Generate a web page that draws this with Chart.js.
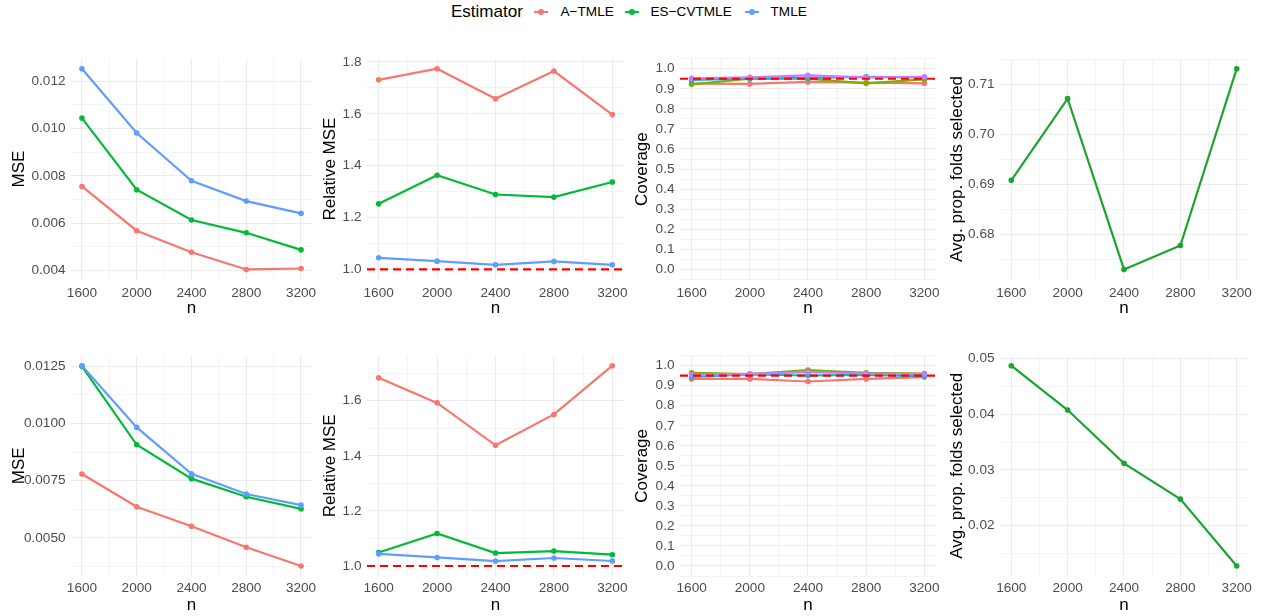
<!DOCTYPE html>
<html>
<head>
<meta charset="utf-8">
<script src="https://cdn.jsdelivr.net/npm/chart.js@4.4.1/dist/chart.umd.min.js"></script>
<style>
  body { margin: 0; background: #fff; width: 1265px; height: 616px; overflow: hidden; position: relative;
         font-family: 'Liberation Sans', Arial, sans-serif; }
  .panel { position: absolute; }
  .lg { position: absolute; top: 0; height: 24px; line-height: 24px; white-space: nowrap; color: #000; }
  .key { position: absolute; top: 11px; width: 14px; height: 2px; }
  .key::after { content: ''; position: absolute; left: 4px; top: -2px; width: 6px; height: 6px;
                border-radius: 50%; background: inherit; }
</style>
</head>
<body>
<div class="lg" style="left:451px;font-size:17px">Estimator</div>
<div class="key" style="left:534px;background:#F8766D"></div>
<div class="lg" style="left:560.5px;font-size:13.6px">A−TMLE</div>
<div class="key" style="left:625px;background:#00BA38"></div>
<div class="lg" style="left:650.5px;font-size:13.6px">ES−CVTMLE</div>
<div class="key" style="left:745px;background:#619CFF"></div>
<div class="lg" style="left:770.5px;font-size:13.6px">TMLE</div>

<div class="panel" style="left:9px;top:45px;width:315px;height:274px"><canvas id="p1"></canvas></div>
<div class="panel" style="left:320px;top:45px;width:316px;height:274px"><canvas id="p2"></canvas></div>
<div class="panel" style="left:632px;top:45px;width:316px;height:274px"><canvas id="p3"></canvas></div>
<div class="panel" style="left:947px;top:45px;width:313px;height:274px"><canvas id="p4"></canvas></div>
<div class="panel" style="left:9px;top:342px;width:315px;height:274px"><canvas id="p5"></canvas></div>
<div class="panel" style="left:320px;top:342px;width:316px;height:274px"><canvas id="p6"></canvas></div>
<div class="panel" style="left:632px;top:342px;width:316px;height:274px"><canvas id="p7"></canvas></div>
<div class="panel" style="left:947px;top:342px;width:313px;height:274px"><canvas id="p8"></canvas></div>

<script>
const nValues = [1600, 2000, 2400, 2800, 3200];
const xTicks = [1600, 2000, 2400, 2800, 3200];
const estimatorColors = ['#F8766D', '#00BA38', '#619CFF'];
const coverageColors = ['#F8766D', '#7CAE00', '#00BFC4', '#C77CFF'];
const foldsColor = '#1AA531';

// top row
const mseTopATMLE = [0.00755, 0.00568, 0.00477, 0.00404, 0.00408];
const mseTopESCV = [0.01044, 0.00741, 0.00613, 0.00559, 0.00487];
const mseTopTMLE = [0.01253, 0.00981, 0.00779, 0.00693, 0.00641];
const relTopATMLE = [1.731, 1.774, 1.658, 1.765, 1.597];
const relTopESCV = [1.253, 1.363, 1.289, 1.279, 1.337];
const relTopTMLE = [1.045, 1.032, 1.018, 1.031, 1.018];
const covTop1 = [0.926, 0.924, 0.934, 0.931, 0.927];
const covTop2 = [0.922, 0.950, 0.950, 0.927, 0.947];
const covTop3 = [0.944, 0.950, 0.954, 0.960, 0.957];
const covTop4 = [0.952, 0.957, 0.967, 0.957, 0.960];
const foldsTop = [0.6908, 0.7072, 0.6729, 0.6777, 0.7132];

// bottom row
const mseBotATMLE = [0.00779, 0.00636, 0.00551, 0.00459, 0.00377];
const mseBotESCV = [0.01250, 0.00907, 0.00759, 0.00680, 0.00627];
const mseBotTMLE = [0.01253, 0.00983, 0.00780, 0.00692, 0.00643];
const relBotATMLE = [1.683, 1.592, 1.438, 1.550, 1.727];
const relBotESCV = [1.049, 1.118, 1.047, 1.054, 1.041];
const relBotTMLE = [1.044, 1.031, 1.018, 1.029, 1.018];
const covBot1 = [0.934, 0.934, 0.921, 0.934, 0.943];
const covBot2 = [0.964, 0.958, 0.978, 0.964, 0.961];
const covBot3 = [0.944, 0.956, 0.951, 0.954, 0.948];
const covBot4 = [0.954, 0.959, 0.968, 0.961, 0.958];
const foldsBot = [0.04875, 0.04077, 0.03119, 0.02476, 0.01274];

// y tick labels
const mseTopTicks = [0.004, 0.006, 0.008, 0.010, 0.012];
const mseBotTicks = [0.0050, 0.0075, 0.0100, 0.0125];
const relTopTicks = [1.0, 1.2, 1.4, 1.6, 1.8];
const relBotTicks = [1.0, 1.2, 1.4, 1.6];
const covTicks = [0.0, 0.1, 0.2, 0.3, 0.4, 0.5, 0.6, 0.7, 0.8, 0.9, 1.0];
const foldsTopTicks = [0.68, 0.69, 0.70, 0.71];
const foldsBotTicks = [0.02, 0.03, 0.04, 0.05];

const relMseRef = 1.0;
const coverageTarget = 0.95;

Chart.defaults.font.family = "'Liberation Sans', Arial, sans-serif";
Chart.defaults.animation = false;

const refLine = {
  id: 'refLine',
  afterDatasetsDraw(chart, args, opts) {
    if (opts.value == null) return;
    const { ctx, chartArea: a } = chart;
    const py = chart.scales.y.getPixelForValue(opts.value);
    ctx.save();
    ctx.strokeStyle = '#FF0000';
    ctx.lineWidth = 2.2;
    ctx.setLineDash([8, 5]);
    ctx.beginPath();
    ctx.moveTo(a.left, py);
    ctx.lineTo(a.right, py);
    ctx.stroke();
    ctx.restore();
  }
};
Chart.register(refLine);

// ggplot-like: 5% expansion, minor lines halfway between breaks
function expand(lo, hi) {
  const pad = (hi - lo) * 0.05;
  return [lo - pad, hi + pad];
}
function tickList(major, digits, lo, hi) {
  const step = major[1] - major[0];
  const minor = [major[0] - step / 2].concat(major.map(v => v + step / 2))
    .filter(v => v >= lo && v <= hi);
  const list = major.map(v => ({ value: v, txt: v.toFixed(digits) }))
    .concat(minor.map(v => ({ value: v, txt: '' })));
  return list.sort((a, b) => a.value - b.value);
}

const [xMin, xMax] = expand(Math.min(...nValues), Math.max(...nValues));
const xTickList = tickList(xTicks, 0, xMin, xMax);

function makePanel(id, series, o) {
  let vals = series.flatMap(s => s.data);
  if (o.ref != null) vals.push(o.ref);
  const lim = o.limits || [Math.min(...vals), Math.max(...vals)];
  const [yMin, yMax] = expand(lim[0], lim[1]);
  const yTickList = tickList(o.ticks, o.digits, yMin, yMax);
  const grid = {
    color: '#EBEBEB',
    lineWidth: c => (c.tick && c.tick.txt ? 1.1 : 0.55),
    drawTicks: false
  };
  new Chart(document.getElementById(id), {
    type: 'line',
    data: {
      datasets: series.map((s, i) => ({
        label: s.label,
        data: nValues.map((n, j) => ({ x: n, y: s.data[j] })),
        borderColor: s.color,
        backgroundColor: s.color,
        borderWidth: 2.2,
        pointRadius: 2.8,
        pointBorderWidth: 0,
        tension: 0,
        order: series.length - i
      }))
    },
    options: {
      responsive: true,
      maintainAspectRatio: false,
      layout: { padding: { top: 12, right: 12, bottom: 0, left: 0 } },
      plugins: {
        legend: { display: false },
        tooltip: { enabled: false },
        refLine: { value: o.ref }
      },
      scales: {
        x: {
          type: 'linear',
          min: xMin,
          max: xMax,
          afterBuildTicks: s => { s.ticks = xTickList.map(t => ({ ...t })); },
          afterFit: s => { s.height = o.xH; },
          ticks: {
            autoSkip: false,
            maxRotation: 0,
            padding: o.xPad,
            color: '#4D4D4D',
            font: { size: 13.6 },
            callback: (v, i, ticks) => ticks[i].txt
          },
          grid: grid,
          border: { display: false },
          title: { display: true, text: 'n', color: '#000', font: { size: 17 }, padding: 0 }
        },
        y: {
          type: 'linear',
          min: yMin,
          max: yMax,
          afterBuildTicks: s => { s.ticks = yTickList.map(t => ({ ...t })); },
          afterFit: s => { s.width = o.yW; },
          ticks: {
            autoSkip: false,
            padding: 5.5,
            color: '#4D4D4D',
            font: { size: 13.6 },
            callback: (v, i, ticks) => ticks[i].txt
          },
          grid: grid,
          border: { display: false },
          title: { display: true, text: o.title, color: '#000', font: { size: 17 }, padding: 0 }
        }
      }
    }
  });
}

function est(a, b, c) {
  return [
    { label: 'A-TMLE', data: a, color: estimatorColors[0] },
    { label: 'ES-CVTMLE', data: b, color: estimatorColors[1] },
    { label: 'TMLE', data: c, color: estimatorColors[2] }
  ];
}
function cov(a, b, c, d) {
  return [a, b, c, d].map((arr, i) => ({ label: 'coverage ' + (i + 1), data: arr, color: coverageColors[i] }));
}

const rowTop = { xH: 39.5, xPad: 6 };
const rowBot = { xH: 40, xPad: 4 };

makePanel('p1', est(mseTopATMLE, mseTopESCV, mseTopTMLE),
  { ...rowTop, title: 'MSE', ticks: mseTopTicks, digits: 3, yW: 62 });
makePanel('p2', est(relTopATMLE, relTopESCV, relTopTMLE),
  { ...rowTop, title: 'Relative MSE', ticks: relTopTicks, digits: 1, yW: 47, ref: relMseRef });
makePanel('p3', cov(covTop1, covTop2, covTop3, covTop4),
  { ...rowTop, title: 'Coverage', ticks: covTicks, digits: 1, yW: 48, ref: coverageTarget, limits: [0, 1] });
makePanel('p4', [{ label: 'ES-CVTMLE', data: foldsTop, color: foldsColor }],
  { ...rowTop, title: 'Avg. prop. folds selected', ticks: foldsTopTicks, digits: 2, yW: 53 });

makePanel('p5', est(mseBotATMLE, mseBotESCV, mseBotTMLE),
  { ...rowBot, title: 'MSE', ticks: mseBotTicks, digits: 4, yW: 62 });
makePanel('p6', est(relBotATMLE, relBotESCV, relBotTMLE),
  { ...rowBot, title: 'Relative MSE', ticks: relBotTicks, digits: 1, yW: 47, ref: relMseRef });
makePanel('p7', cov(covBot1, covBot2, covBot3, covBot4),
  { ...rowBot, title: 'Coverage', ticks: covTicks, digits: 1, yW: 48, ref: coverageTarget, limits: [0, 1] });
makePanel('p8', [{ label: 'ES-CVTMLE', data: foldsBot, color: foldsColor }],
  { ...rowBot, title: 'Avg. prop. folds selected', ticks: foldsBotTicks, digits: 2, yW: 53 });
</script>
</body>
</html>
